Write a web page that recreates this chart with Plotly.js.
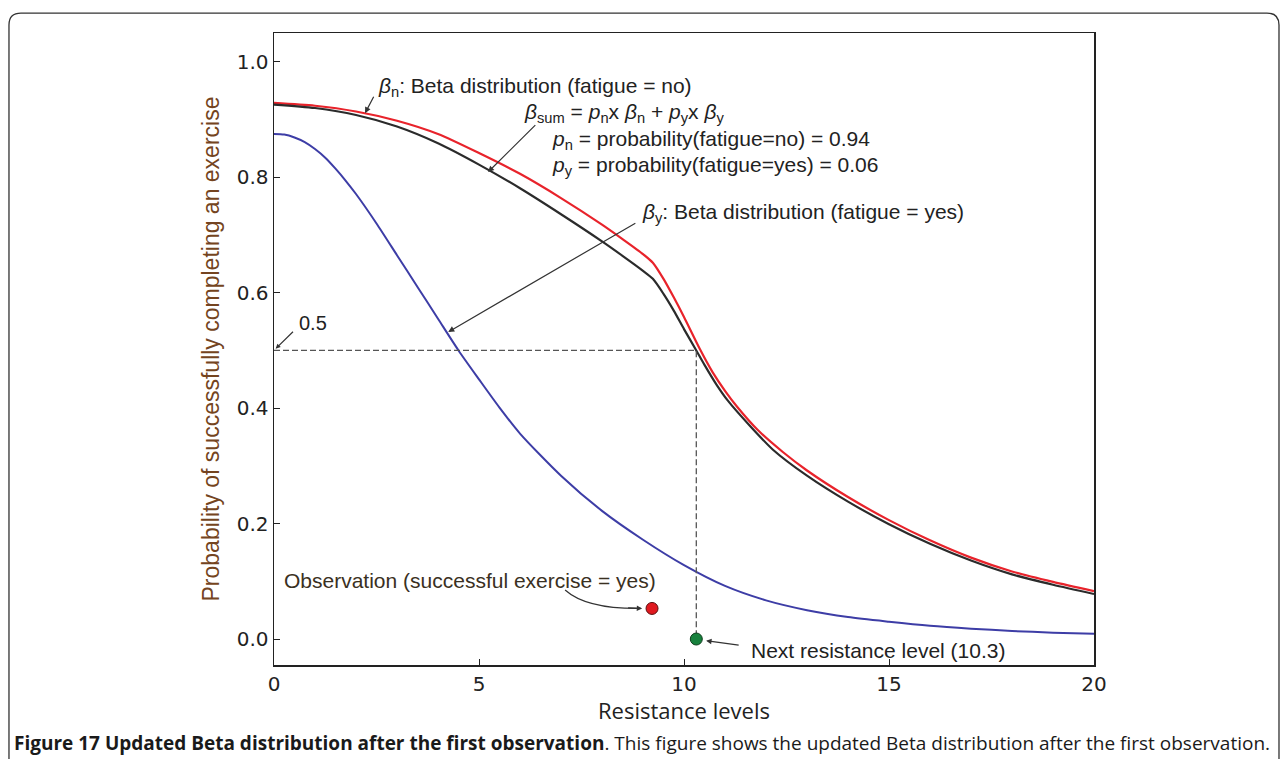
<!DOCTYPE html>
<html>
<head>
<meta charset="utf-8">
<script src="https://cdn.plot.ly/plotly-3.0.1.min.js"></script>
<style>html,body{margin:0;padding:0;background:#fff;}#chart{width:1282px;height:759px;}</style>
</head>
<body>
<div id="chart"></div>
<script>
// Resistance levels (x) for the fatigue=no curve (red)
const xLevelsN = [0,1,2,3,4,5,6,7,8,8.5,9,9.24,9.5,9.75,10,10.39,10.7,11,11.3,11.8,12.41,13,14,15,16,17,18,19,20];
// beta_n : Beta distribution (fatigue = no)  -- red
const betaN    = [0.929,0.924,0.914,0.898,0.875,0.842,0.806,0.764,0.718,0.693,0.667,0.652,0.624,0.592,0.558,0.502,0.462,0.430,0.402,0.362,0.324,0.292,0.246,0.206,0.171,0.141,0.117,0.099,0.083];
// Resistance levels (x) for the mixture curve (black)
const xLevelsS = [0,1,2,3,4,5,6,7,8,8.5,9,9.24,9.5,9.75,10,10.3,10.5,10.8,11.07,11.6,12.17,13,14,15,16,17,18,19,20];
// beta_sum = p_n x beta_n + p_y x beta_y  -- black
const betaSum  = [0.926,0.920,0.908,0.888,0.859,0.822,0.781,0.736,0.689,0.664,0.638,0.624,0.598,0.569,0.537,0.500,0.475,0.440,0.413,0.370,0.328,0.283,0.238,0.199,0.165,0.136,0.112,0.094,0.078];
// Resistance levels (x) for the fatigue=yes curve (blue)
const xLevelsY = [0,0.25,0.5,0.75,1,1.25,1.5,1.75,2,2.5,3,3.5,4,4.5,5,5.5,6,7,8,9,10,11,12,13,14,15,16,17,18,19,20];
// beta_y : Beta distribution (fatigue = yes) -- blue
const betaY    = [0.875,0.874,0.869,0.861,0.849,0.834,0.815,0.794,0.771,0.720,0.665,0.610,0.555,0.500,0.450,0.401,0.356,0.283,0.222,0.172,0.128,0.092,0.067,0.050,0.038,0.030,0.023,0.018,0.014,0.011,0.009];
// Observation and next resistance level
const obsX = [9.22], obsY = [0.053];
const nextX = [10.3], nextY = [0.0];
const threshold = 0.5;
const xTicks = [0,5,10,15,20];
const yTicks = [0,0.2,0.4,0.6,0.8,1.0];

const txtFont = {family:'Liberation Sans, Arial, sans-serif', size:21, color:'#222'};

const traces = [
  {x:xLevelsN, y:betaN, mode:'lines', line:{color:'#e8232b', width:2.2, shape:'spline', smoothing:0.7}, hoverinfo:'skip'},
  {x:xLevelsS, y:betaSum, mode:'lines', line:{color:'#2b2b2b', width:2.2, shape:'spline', smoothing:0.7}, hoverinfo:'skip'},
  {x:xLevelsY, y:betaY, mode:'lines', line:{color:'#3d3da6', width:2, shape:'spline', smoothing:0.7}, hoverinfo:'skip'},
  {x:[0, nextX[0], nextX[0]], y:[threshold, threshold, nextY[0]], mode:'lines', line:{color:'#555', width:1.3, dash:'6px,3px'}, hoverinfo:'skip'},
  {x:obsX, y:obsY, mode:'markers', marker:{color:'#e0191f', size:12, line:{color:'#5a1010', width:1}}, hoverinfo:'skip'},
  {x:nextX, y:nextY, mode:'markers', marker:{color:'#17813d', size:12, line:{color:'#0d3d1c', width:1}}, hoverinfo:'skip'}
];

function arrow(x, y, ax, ay, hs) {
  return {x:x, y:y, ax:ax, ay:ay, xref:'x', yref:'y', axref:'x', ayref:'y', text:'', showarrow:true,
          arrowhead:2, arrowsize:hs||1, arrowwidth:1.2, arrowcolor:'#333', standoff:0, startstandoff:0};
}
function label(x, y, text, extra) {
  return Object.assign({x:x, y:y, xref:'x', yref:'y', text:text, showarrow:false, xanchor:'left', yanchor:'middle', font:txtFont}, extra||{});
}

const annotations = [
  label(2.49, 0.957, '<i>β</i><sub>n</sub>: Beta distribution (fatigue = no)'),
  arrow(2.22, 0.911, 2.45, 0.942),
  label(6.05, 0.912, '<i>β</i><sub>sum</sub> = <i>p</i><sub>n</sub>x <i>β</i><sub>n</sub> + <i>p</i><sub>y</sub>x <i>β</i><sub>y</sub>'),
  arrow(5.22, 0.809, 6.41, 0.893),
  label(6.73, 0.865, '<i>p</i><sub>n</sub> = probability(fatigue=no) = 0.94'),
  label(6.73, 0.819, '<i>p</i><sub>y</sub> = probability(fatigue=yes) = 0.06'),
  label(8.93, 0.738, '<i>β</i><sub>y</sub>: Beta distribution (fatigue = yes)'),
  arrow(4.25, 0.532, 8.85, 0.722),
  label(0.55, 0.548, '0.5', {font:{family:'Liberation Sans, Arial, sans-serif', size:20, color:'#222'}}),
  arrow(0.04, 0.503, 0.5, 0.535, 0.8),
  label(0.2, 0.102, 'Observation (successful exercise = yes)', {font:{family:'Liberation Sans, Arial, sans-serif', size:21, color:'#3a3022'}}),
  arrow(8.98, 0.053, 8.6, 0.054, 0.9),
  label(11.59, -0.02, 'Next resistance level (10.3)'),
  arrow(10.54, -0.003, 11.37, -0.011, 0.9),
  {x:-0.3195, y:-0.1234, xref:'paper', yref:'paper', xanchor:'left', yanchor:'middle', showarrow:false,
   text:'<b>Figure 17 Updated Beta distribution after the first observation</b>. This figure shows the updated Beta distribution after the first observation.',
   font:{family:'Liberation Sans Narrow, Open Sans, sans-serif', size:19, color:'#1a1a1a'}}
];

const rx = 12/820, ry = 12/632;
const L = -0.3232, R = 1.2256, T = 1.0316, B = -0.20;
const border = `M ${L},${B} L ${L},${T-ry} Q ${L},${T} ${L+rx},${T} L ${R-rx},${T} Q ${R},${T} ${R},${T-ry} L ${R},${B}`;

const shapes = [
  {type:'path', xref:'paper', yref:'paper', path:border, line:{color:'#333', width:1.3}},
  {type:'path', xref:'x', yref:'y', path:'M 7.1,0.085 Q 7.6,0.053 8.85,0.053', line:{color:'#333', width:1.2}}
];

const layout = {
  width:1282, height:759,
  margin:{l:274, r:188, t:33, b:94},
  paper_bgcolor:'#fff', plot_bgcolor:'#fff',
  showlegend:false,
  xaxis:{range:[0,20], tickvals:xTicks, ticktext:xTicks.map(String), ticks:'inside', ticklen:6, tickcolor:'#222',
         showline:true, linecolor:'#222', linewidth:1.5, mirror:true, showgrid:false, zeroline:false,
         tickfont:{family:'DejaVu Sans, sans-serif', size:20, color:'#222'},
         title:{text:'Resistance levels', font:{family:'Liberation Sans Narrow, Open Sans, sans-serif', size:22, color:'#222'}, standoff:6}},
  yaxis:{range:[-0.045,1.05], tickvals:yTicks, ticktext:yTicks.map(v=>v.toFixed(1)), ticks:'inside', ticklen:6, tickcolor:'#222',
         showline:true, linecolor:'#222', linewidth:1.5, mirror:true, showgrid:false, zeroline:false,
         tickfont:{family:'DejaVu Sans, sans-serif', size:20, color:'#222'},
         title:{text:'Probability of successfully completing an exercise', font:{family:'Liberation Sans, Arial, sans-serif', size:23, color:'#744420'}, standoff:10}},
  annotations:annotations,
  shapes:shapes
};

Plotly.newPlot('chart', traces, layout, {staticPlot:true, displayModeBar:false});
</script>
</body>
</html>
